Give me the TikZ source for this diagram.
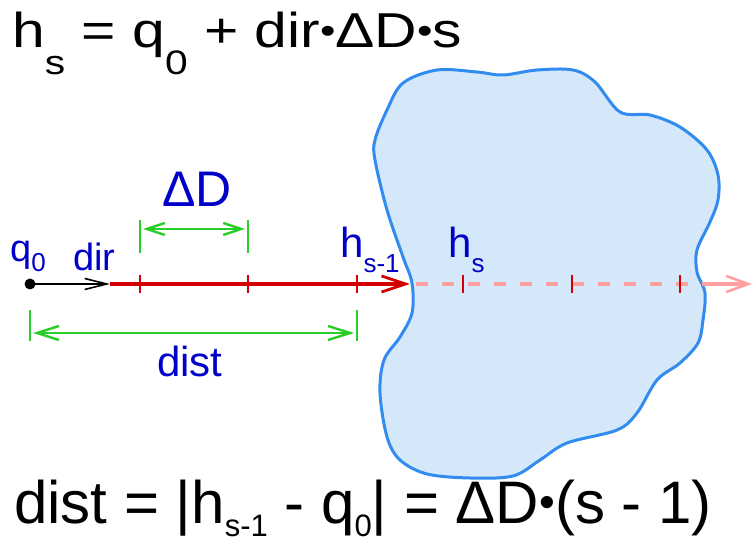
\documentclass[tikz,border=0pt]{standalone}
\usepackage{fontspec}
\setmainfont{Liberation Sans}
\usetikzlibrary{arrows.meta}
\definecolor{txtblue}{RGB}{0,0,200}
\definecolor{grn}{RGB}{40,205,40}
\definecolor{rd}{RGB}{210,0,0}
\definecolor{pnk}{RGB}{255,160,160}
\definecolor{blobfill}{RGB}{212,232,250}
\definecolor{blobline}{RGB}{50,140,240}
\newcommand\mysub[3]{\raisebox{#2}{\fontsize{#1}{#1}\selectfont #3}}
\newcommand\mybul{\raisebox{0.1em}{\scalebox{0.75}{•}}}
\tikzset{
  lbl/.style={text=txtblue, inner sep=0pt, anchor=base west},
  formula/.style={text=black, inner sep=0pt, anchor=base west, font=\fontsize{#1}{#1}\selectfont},
  dimline/.style={draw=grn, line width=2.8pt},
  dimtick/.style={draw=grn, line width=2.4pt},
  redtick/.style={draw=rd, line width=1.6pt},
  mainarrow/.style={draw=rd, line width=4pt, -{Straight Barb[length=24pt,width=16pt,line width=2.8pt]}},
}
\begin{document}
\begin{tikzpicture}[x=1pt,y=-1pt]
\useasboundingbox (0,0) rectangle (753,545);
% blob
\path[fill=blobfill, draw=blobline, line width=3pt] plot[smooth cycle, tension=0.55] coordinates {
(403,83) (437,70) (477,72) (503,75) (537,70) (573,70) (595,82) (620,112) (650,115) (680,127)
(707,150) (718,175) (718,200) (710,222) (697,250) (697,272) (705,293) (703,320) (698,343)
(680,363) (657,380) (637,413) (617,430) (567,443) (540,460) (513,476) (470,478) (427,474)
(400,460) (387,437) (380,393) (384,360) (400,337) (412,313) (412,283) (403,257) (387,210)
(375,160) (375,140) (387,110)};
% coordinates on the ray
\coordinate (q0) at (30,284);
\coordinate (dirend) at (110,284);
\coordinate (hit) at (410,284);
\coordinate (exit) at (704,284);
\coordinate (rayend) at (752,284);
% pink continuation
\draw[draw=pnk, line width=3.6pt, dash pattern=on 12pt off 14pt, dash phase=-6pt] (hit) -- (exit);
\draw[draw=pnk, line width=3.6pt, -{Straight Barb[length=22pt,width=16pt,line width=2.6pt]}] (exit) -- (rayend);
% red segment
\draw[mainarrow] (dirend) -- (hit);
% black dir
\draw[line width=2.2pt, -{Straight Barb[length=22pt,width=11pt,line width=1.6pt]}] (q0) -- (dirend);
\fill (q0) circle (5.5pt);
% ticks
\foreach \x/\n in {140/t1,248/t2,357/t3,463/t4,572/t5,680/t6}{
  \coordinate (\n a) at (\x,275); \coordinate (\n b) at (\x,293);
  \draw[redtick] (\n a) -- (\n b);
}
% Delta D dimension
\coordinate (dA1) at (140,220); \coordinate (dA2) at (140,253);
\coordinate (dB1) at (248,220); \coordinate (dB2) at (248,253);
\draw[dimtick] (dA1) -- (dA2);
\draw[dimtick] (dB1) -- (dB2);
\coordinate (dL) at (143,229); \coordinate (dR) at (245,229);
\draw[dimline, {Straight Barb[length=18pt,width=12pt,line width=2.4pt]}-{Straight Barb[length=18pt,width=12pt,line width=2.4pt]}] (dL) -- (dR);
% dist dimension
\coordinate (sA1) at (30,310); \coordinate (sA2) at (30,341);
\coordinate (sB1) at (357,310); \coordinate (sB2) at (357,341);
\draw[dimtick] (sA1) -- (sA2);
\draw[dimtick] (sB1) -- (sB2);
\coordinate (sL) at (33,333); \coordinate (sR) at (354,333);
\draw[dimline, {Straight Barb[length=22pt,width=14pt,line width=2.4pt]}-{Straight Barb[length=22pt,width=14pt,line width=2.4pt]}] (sL) -- (sR);
% labels
\node[lbl, font=\fontsize{38}{38}\selectfont] (lq0) at (10,262) {q\mysub{26}{-10pt}{0}};
\node[lbl, font=\fontsize{38}{38}\selectfont] (ldir) at (73,271) {dir};
\node[lbl, font=\fontsize{50}{50}\selectfont, anchor=base] (ldD) at (197,207) {ΔD};
\node[lbl, font=\fontsize{42}{42}\selectfont] (lhs1) at (340,258) {h\mysub{26}{-15pt}{s-1}};
\node[lbl, font=\fontsize{42}{42}\selectfont] (lhs) at (448,258) {h\mysub{26}{-15pt}{s}};
\node[lbl, font=\fontsize{42}{42}\selectfont, anchor=base] (ldist) at (190,377) {dist};
% formulas
\node[formula=49] (f1) at (12,48) {\scalebox{1.2}[1]{h\mysub{34}{-27pt}{s} = q\mysub{34}{-27pt}{0} + dir\mybul ΔD\mybul s}};
\node[formula=60] (f2) at (14,523) {dist = |h\mysub{31}{-13pt}{s-1} - q\mysub{31}{-13pt}{0}| = ΔD\mybul(s - 1)};
\end{tikzpicture}
\end{document}
